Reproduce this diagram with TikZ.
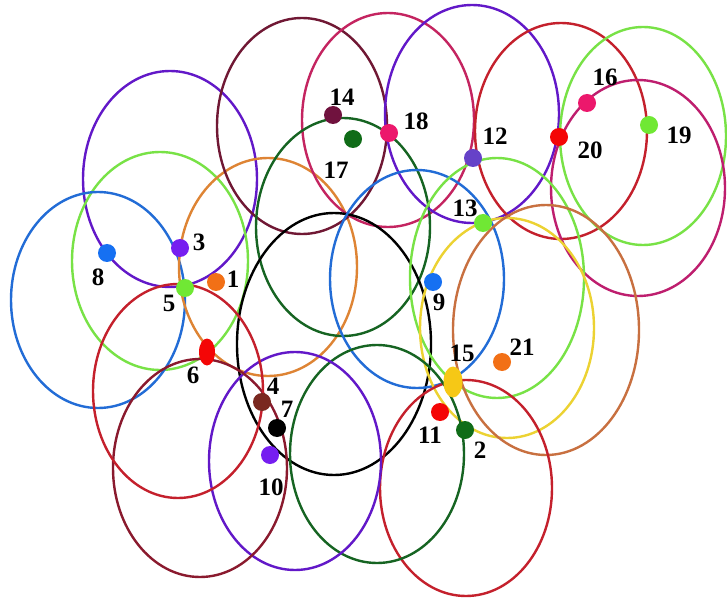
\documentclass[tikz,border=0pt]{standalone}
\usepackage{fontspec}
\setmainfont{Liberation Serif}
\usetikzlibrary{shapes.geometric}
\definecolor{cPurple}{RGB}{98,24,200}
\definecolor{cLGreen}{RGB}{120,226,70}
\definecolor{cBlue}{RGB}{34,108,214}
\definecolor{cOrange}{RGB}{222,132,52}
\definecolor{cMaroon}{RGB}{112,24,52}
\definecolor{cCrimson}{RGB}{196,36,96}
\definecolor{cDGreen}{RGB}{22,100,34}
\definecolor{cRed}{RGB}{196,32,44}
\definecolor{cMagenta}{RGB}{190,30,110}
\definecolor{cYellow}{RGB}{236,210,50}
\definecolor{cBrown}{RGB}{200,112,64}
\definecolor{cWine}{RGB}{138,26,46}
% dot colours
\definecolor{dOrange}{RGB}{242,112,22}
\definecolor{dDGreen}{RGB}{16,108,24}
\definecolor{dPurple}{RGB}{118,30,240}
\definecolor{dBrown}{RGB}{122,40,32}
\definecolor{dLGreen}{RGB}{112,232,52}
\definecolor{dRed}{RGB}{244,6,6}
\definecolor{dBlue}{RGB}{22,112,242}
\definecolor{dSlate}{RGB}{102,66,200}
\definecolor{dMaroon}{RGB}{112,18,62}
\definecolor{dGold}{RGB}{246,200,22}
\definecolor{dPink}{RGB}{236,24,108}
\begin{document}
\begin{tikzpicture}[x=1pt,y=-1pt,
  ring/.style={line width=2.4pt},
  dot/.style={circle,inner sep=0pt,minimum size=18pt},
  oval/.style={ellipse,inner sep=0pt,minimum width=16pt,minimum height=27pt},
  lab/.style={inner sep=0pt,font=\fontsize{25}{25}\selectfont\bfseries}]
\useasboundingbox (0,0) rectangle (727,601);
\fill[white] (0,0) rectangle (727,601);
% ellipses
\draw[ring,cPurple]  (170,179) ellipse [x radius=87pt, y radius=108pt];
\draw[ring,cLGreen]  (160,261) ellipse [x radius=88pt, y radius=109pt];
\draw[ring,cBlue]    (98,300)  ellipse [x radius=87pt, y radius=108pt];
\draw[ring,cOrange]  (268,267) ellipse [x radius=89pt, y radius=109pt];
\draw[ring,cMaroon]  (302,126) ellipse [x radius=85pt, y radius=108pt];
\draw[ring,cCrimson] (388,120) ellipse [x radius=86pt, y radius=107pt];
\draw[ring,cDGreen]  (343,227) ellipse [x radius=87pt, y radius=109pt];
\draw[ring,black]    (334,344) ellipse [x radius=97pt, y radius=131pt];
\draw[ring,cPurple]  (472,114) ellipse [x radius=87pt, y radius=109pt];
\draw[ring,cRed]     (561,131) ellipse [x radius=86pt, y radius=108pt];
\draw[ring,cLGreen]  (643,136) ellipse [x radius=83pt, y radius=109pt];
\draw[ring,cMagenta] (638,188) ellipse [x radius=87pt, y radius=108pt];
\draw[ring,cBlue]    (417,279) ellipse [x radius=87pt, y radius=109pt];
\draw[ring,cLGreen]  (497,278) ellipse [x radius=87pt, y radius=120pt];
\draw[ring,cYellow]  (507,328) ellipse [x radius=87pt, y radius=110pt];
\draw[ring,cBrown]   (546,330) ellipse [x radius=93pt, y radius=125pt];
\draw[ring,cRed]     (466,488) ellipse [x radius=86pt, y radius=108pt];
\draw[ring,cDGreen]  (377,454) ellipse [x radius=87pt, y radius=109pt];
\draw[ring,cPurple]  (295,461) ellipse [x radius=86pt, y radius=109pt];
\draw[ring,cWine]    (200,468) ellipse [x radius=87pt, y radius=109pt];
\draw[ring,cRed]     (178,391) ellipse [x radius=85pt, y radius=107pt];
% dots
\node[dot,fill=dOrange] (d1)  at (216,282) {};
\node[dot,fill=dDGreen] (d2)  at (465,430) {};
\node[dot,fill=dPurple] (d3)  at (180,248) {};
\node[dot,fill=dBrown]  (d4)  at (262,402) {};
\node[dot,fill=dLGreen] (d5)  at (185,288) {};
\node[oval,fill=dRed]   (d6)  at (207,352) {};
\node[dot,fill=black]   (d7)  at (277,428) {};
\node[dot,fill=dBlue]   (d8)  at (107,253) {};
\node[dot,fill=dBlue]   (d9)  at (433,282) {};
\node[dot,fill=dPurple] (d10) at (270,455) {};
\node[dot,fill=dRed]    (d11) at (440,412) {};
\node[dot,fill=dSlate]  (d12) at (473,158) {};
\node[dot,fill=dLGreen] (d13) at (483,223) {};
\node[dot,fill=dMaroon] (d14) at (333,115) {};
\node[oval,fill=dGold,minimum width=19pt,minimum height=31pt] (d15) at (453,382) {};
\node[dot,fill=dPink]   (d16) at (587,103) {};
\node[dot,fill=dDGreen] (d17) at (353,139) {};
\node[dot,fill=dPink]   (d18) at (389,133) {};
\node[dot,fill=dLGreen] (d19) at (649,125) {};
\node[dot,fill=dRed]    (d20) at (559,137) {};
\node[dot,fill=dOrange] (d21) at (502,362) {};
% labels
\node[lab] (l1)  at (233,279) {1};
\node[lab] (l2)  at (480,450) {2};
\node[lab] (l3)  at (199,242) {3};
\node[lab] (l4)  at (273,386) {4};
\node[lab] (l5)  at (169,303) {5};
\node[lab] (l6)  at (193,375) {6};
\node[lab] (l7)  at (287,409) {7};
\node[lab] (l8)  at (98,277)  {8};
\node[lab] (l9)  at (439,302) {9};
\node[lab] (l10) at (271,487) {10};
\node[lab] (l11) at (430,435) {11};
\node[lab] (l12) at (495,136) {12};
\node[lab] (l13) at (465,208) {13};
\node[lab] (l14) at (342,97)  {14};
\node[lab] (l15) at (462,353) {15};
\node[lab] (l16) at (605,77)  {16};
\node[lab] (l17) at (336,170) {17};
\node[lab] (l18) at (416,121) {18};
\node[lab] (l19) at (679,135) {19};
\node[lab] (l20) at (590,150) {20};
\node[lab] (l21) at (522,347) {21};
\end{tikzpicture}
\end{document}
